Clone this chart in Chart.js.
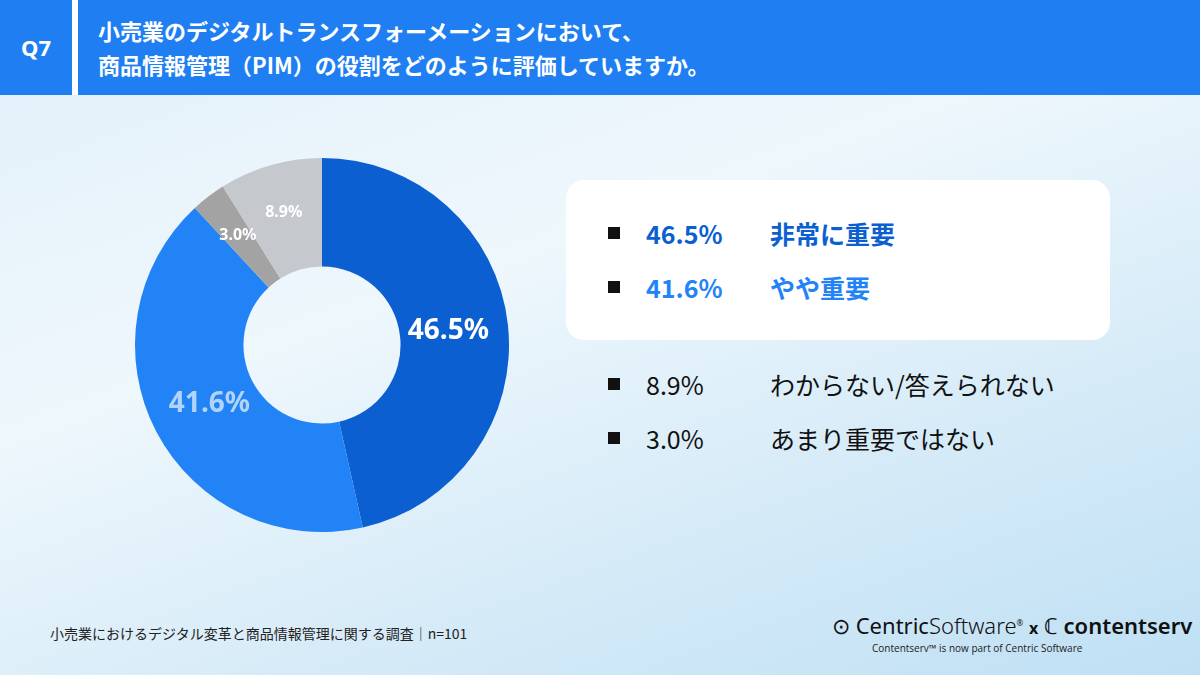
<!DOCTYPE html>
<html><head><meta charset="utf-8">
<script src="https://cdn.jsdelivr.net/npm/chart.js@4"></script>
<style>
body{margin:0;width:1200px;height:675px;overflow:hidden;font-family:"Noto Sans CJK JP","Noto Sans",sans-serif;
background:linear-gradient(160deg,#e2f0fa 0%,#eef7fc 40%,#d2e9f7 75%,#bfe0f4 100%);position:relative}
#head{position:absolute;left:0;top:0;width:1200px;height:95px;background:#1f7ff2}
#q{position:absolute;left:0;top:0;width:72px;height:95px;color:#fff;font:bold 22px "Noto Sans",sans-serif;line-height:95px;text-align:center}
#bar{position:absolute;left:72px;top:0;width:6px;height:95px;background:#fff}
#title{position:absolute;left:98px;top:13px;color:#fff;font-weight:bold;font-size:22px;line-height:34px}
#wrap{position:absolute;left:132px;top:155px;width:380px;height:380px}
#box{position:absolute;left:566px;top:180px;width:544px;height:160px;background:#fff;border-radius:18px}
.row{position:absolute;left:608px;font-size:25px;display:flex;align-items:center}
.row i{display:inline-block;width:12px;height:12px;background:#111;margin-right:26px}
.row .p{width:124px}
#foot{position:absolute;left:50px;top:623px;font-size:14px;color:#222}
#logo{position:absolute;left:832px;top:610px;font:22px "Noto Sans",sans-serif;color:#111}
#sub{position:absolute;left:872px;top:641px;font:10px "Open Sans",sans-serif;color:#222}
</style></head><body>
<div id="head"></div><div id="q">Q7</div><div id="bar"></div>
<div id="title">小売業のデジタルトランスフォーメーションにおいて、<br>商品情報管理（PIM）の役割をどのように評価していますか。</div>
<div id="wrap"><canvas id="c"></canvas></div>
<div id="box"></div>
<div id="legend"></div>
<div id="foot">小売業におけるデジタル変革と商品情報管理に関する調査｜n=101</div>
<div id="logo">⊙ Centric<span style="font-weight:300">Software</span><sup style="font-size:8px">®</sup> <b style="font-size:16px">x</b> ℂ <b style="font-weight:600">contentserv</b></div>
<div id="sub">Contentserv™ is now part of Centric Software</div>
<script>
const categories = ['非常に重要', 'やや重要', 'あまり重要ではない', 'わからない/答えられない'];
const values = [46.5, 41.6, 3.0, 8.9];
const colors = ['#0b5fd0', '#2283f6', '#a3a3a3', '#c5c9cd'];
const labelColors = ['#ffffff', '#b2d3fa', '#ffffff', '#ffffff'];
const labelSizes = [28, 28, 16, 16];
const legendOrder = [0, 1, 3, 2];
const legendColors = ['#0b5fd0', '#2283f6', '#111', '#111'];
const legendTops = [215, 269, 366, 420];

const leg = document.getElementById('legend');
legendOrder.forEach((k, n) => {
  const d = document.createElement('div');
  d.className = 'row';
  d.style.top = legendTops[n] + 'px';
  d.style.color = legendColors[n];
  if (n < 2) d.style.fontWeight = 'bold';
  d.innerHTML = `<i></i><span class="p">${values[k].toFixed(1)}%</span><span>${categories[k]}</span>`;
  leg.appendChild(d);
});

const labelPlugin = {
  id: 'labels',
  afterDatasetsDraw(chart) {
    const ctx = chart.ctx;
    chart.getDatasetMeta(0).data.forEach((arc, i) => {
      const a = (arc.startAngle + arc.endAngle) / 2;
      const r = i < 2 ? arc.outerRadius * 0.68 : arc.outerRadius * 0.74;
      const x = arc.x + Math.cos(a) * r, y = arc.y + Math.sin(a) * r;
      ctx.save();
      ctx.fillStyle = labelColors[i];
      ctx.font = `bold ${labelSizes[i]}px "Noto Sans", sans-serif`;
      ctx.textAlign = 'center'; ctx.textBaseline = 'middle';
      ctx.fillText(values[i].toFixed(1) + '%', x, y);
      ctx.restore();
    });
  }
};

new Chart(document.getElementById('c'), {
  type: 'doughnut',
  data: { labels: categories, datasets: [{ data: values, backgroundColor: colors, borderWidth: 0 }] },
  options: {
    responsive: true, maintainAspectRatio: false, animation: false,
    cutout: '42%',
    layout: { padding: 3 },
    plugins: { legend: { display: false }, tooltip: { enabled: false } }
  },
  plugins: [labelPlugin]
});
</script>
</body></html>
